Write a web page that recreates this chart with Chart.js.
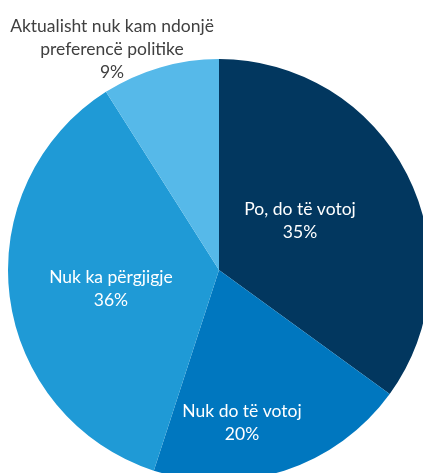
<!DOCTYPE html>
<html>
<head>
<meta charset="utf-8">
<script src="https://cdn.jsdelivr.net/npm/chart.js@4"></script>
<style>
  html, body { margin: 0; padding: 0; background: #fff; overflow: hidden; width: 423px; height: 473px; }
  canvas { display: block; }
</style>
</head>
<body>
<canvas id="pieChart" width="430" height="481"></canvas>
<script>
// data
const categories = [
  "Po, do të votoj",
  "Nuk do të votoj",
  "Nuk ka përgjigje",
  "Aktualisht nuk kam ndonjë preferencë politike"
];
const shares = [35, 20, 36, 9];
const colors = ["#02375F", "#0077BF", "#1F9AD6", "#56B9E9"];

// label lines and where they sit (relative to centre, in radius units)
const labelLines = [
  ["Po, do të votoj"],
  ["Nuk do të votoj"],
  ["Nuk ka përgjigje"],
  ["Aktualisht nuk kam ndonjë", "preferencë politike"]
];
const labelOffsets = [[0.384, -0.232], [0.109, 0.724], [-0.512, 0.088], [-0.507, -1.048]];
const labelColors = ["#fff", "#fff", "#fff", "#404040"];

const sliceLabels = {
  id: "sliceLabels",
  afterDatasetsDraw(chart) {
    const ctx = chart.ctx;
    const arcs = chart.getDatasetMeta(0).data;
    ctx.save();
    ctx.font = "17.5px Lato";
    ctx.textAlign = "center";
    ctx.textBaseline = "middle";
    arcs.forEach((arc, i) => {
      const r = arc.outerRadius;
      const x = arc.x + labelOffsets[i][0] * r;
      const y = arc.y + labelOffsets[i][1] * r;
      const lines = labelLines[i].concat([shares[i] + "%"]);
      const lh = 23;
      const top = y - (lines.length - 1) * lh / 2;
      ctx.fillStyle = labelColors[i];
      lines.forEach((t, k) => ctx.fillText(t, x, top + k * lh));
    });
    ctx.restore();
  }
};

new Chart(document.getElementById("pieChart"), {
  type: "pie",
  data: {
    labels: categories,
    datasets: [{
      data: shares,
      backgroundColor: colors,
      borderWidth: 0
    }]
  },
  options: {
    responsive: false,
    animation: false,
    layout: { padding: { left: 8, top: 59, right: 0, bottom: 0 } },
    plugins: {
      legend: { display: false },
      tooltip: { enabled: false }
    }
  },
  plugins: [sliceLabels]
});
</script>
</body>
</html>
